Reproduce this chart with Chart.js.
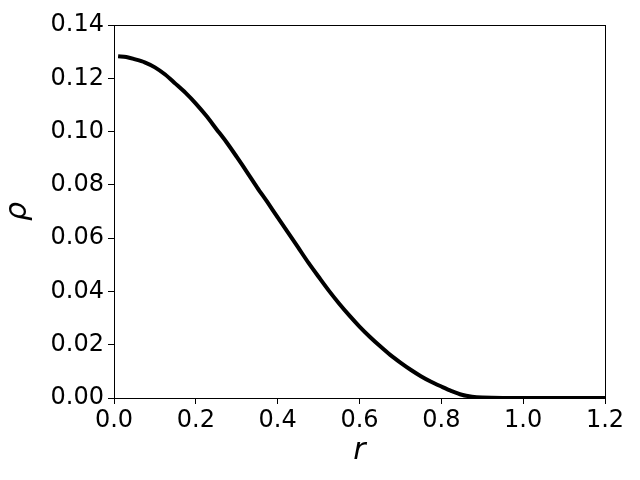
<!DOCTYPE html>
<html>
<head>
<meta charset="utf-8">
<script src="https://cdn.jsdelivr.net/npm/chart.js@4"></script>
<style>
  body { margin: 0; background: #fff; }
  #wrap { width: 640px; height: 480px; }
</style>
</head>
<body>
<div id="wrap"><canvas id="myChart" width="640" height="480"></canvas></div>
<script>
// density profile rho(r)
const rVals = [0.01, 0.03, 0.05, 0.075, 0.1, 0.125, 0.15, 0.175, 0.2, 0.225, 0.25, 0.275, 0.3,
  0.325, 0.35, 0.375, 0.4, 0.425, 0.45, 0.475, 0.5, 0.525, 0.55, 0.575, 0.6, 0.625, 0.65,
  0.675, 0.7, 0.725, 0.75, 0.775, 0.8, 0.825, 0.85, 0.875, 0.9, 0.95, 1.0, 1.1, 1.2];
const rhoVals = [0.1283, 0.1280, 0.1272, 0.1260, 0.1241, 0.1214, 0.1180, 0.1145, 0.1105, 0.1060,
  0.1010, 0.0960, 0.0905, 0.0848, 0.0790, 0.0735, 0.0678, 0.0622, 0.0565, 0.0508, 0.0455,
  0.0403, 0.0355, 0.0310, 0.0268, 0.0230, 0.0195, 0.0162, 0.0133, 0.0106, 0.0082, 0.0061,
  0.0043, 0.0026, 0.0012, 0.0005, 0.0002, 0.0, 0.0, 0.0, 0.0];
const xTicks = [0, 0.2, 0.4, 0.6, 0.8, 1.0, 1.2];
const yTicks = [0, 0.02, 0.04, 0.06, 0.08, 0.10, 0.12, 0.14];

const pts = rVals.map((r, i) => ({ x: r, y: rhoVals[i] }));

const frame = {
  id: "frame",
  afterDraw(chart) {
    const a = chart.chartArea, ctx = chart.ctx;
    ctx.save();
    ctx.strokeStyle = "#000";
    ctx.lineWidth = 1;
    ctx.strokeRect(a.left + 0.5, a.top + 0.5, a.right - a.left, a.bottom - a.top);
    ctx.restore();
  }
};

new Chart(document.getElementById("myChart"), {
  type: "scatter",
  data: {
    datasets: [{
      data: pts,
      showLine: true,
      borderColor: "#000",
      backgroundColor: "#000",
      borderWidth: 4,
      pointRadius: 0,
      tension: 0.3
    }]
  },
  options: {
    responsive: false,
    animation: false,
    layout: { padding: { left: 0, top: 25, right: 35, bottom: 11 } },
    plugins: { legend: { display: false }, tooltip: { enabled: false } },
    scales: {
      x: {
        type: "linear",
        min: 0, max: 1.2,
        afterBuildTicks: s => { s.ticks = xTicks.map(v => ({ value: v })); },
        afterFit: s => { s.height = 71; },
        grid: { drawOnChartArea: false, tickLength: 6, color: "#000" },
        border: { color: "#000" },
        ticks: { color: "#000", font: { family: "DejaVu Sans", size: 24 }, padding: 2,
          maxRotation: 0, callback: v => v.toFixed(1) },
        title: { display: true, text: "r", color: "#000", padding: 0,
          font: { family: "DejaVu Sans", size: 30, style: "italic" } }
      },
      y: {
        min: 0, max: 0.14,
        afterBuildTicks: s => { s.ticks = yTicks.map(v => ({ value: v })); },
        afterFit: s => { s.width = 114; },
        grid: { drawOnChartArea: false, tickLength: 6, color: "#000" },
        border: { color: "#000" },
        ticks: { color: "#000", font: { family: "DejaVu Sans", size: 24 }, padding: 4,
          callback: v => v.toFixed(2) },
        title: { display: true, text: "ρ", color: "#000", padding: 0,
          font: { family: "DejaVu Sans", size: 30, style: "italic" } }
      }
    }
  },
  plugins: [frame]
});
</script>
</body>
</html>
